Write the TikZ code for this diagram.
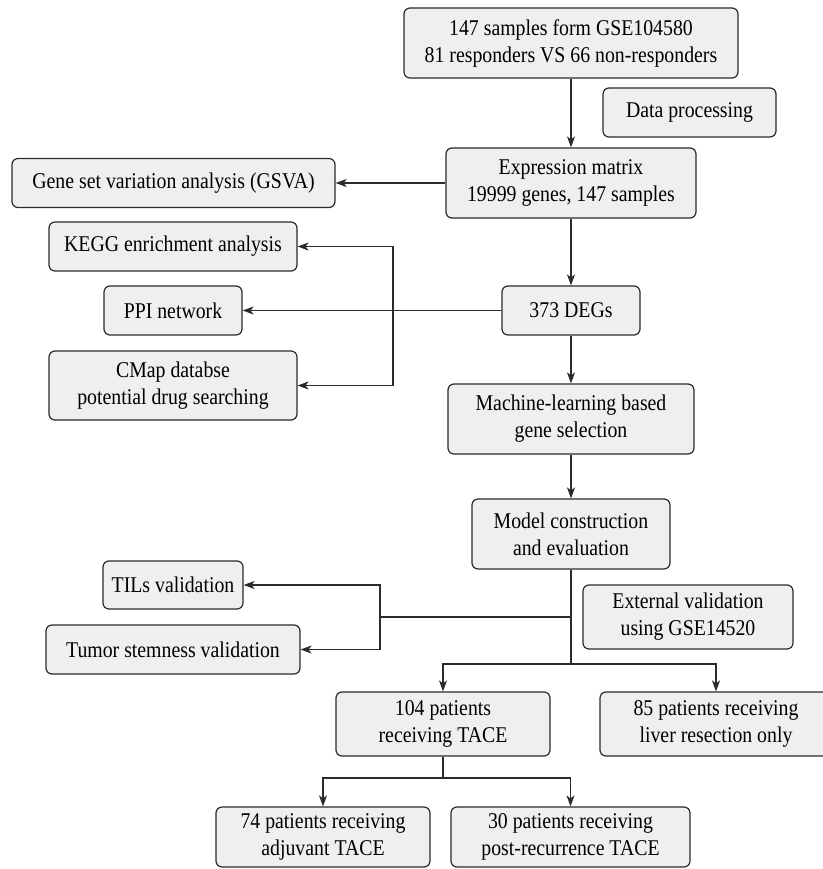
\documentclass[tikz,border=0pt]{standalone}
\usepackage{fontspec}
\setmainfont{Liberation Serif}[FakeStretch=0.88]
\usetikzlibrary{arrows.meta}
\definecolor{boxfill}{HTML}{EFEFEF}
\definecolor{boxline}{HTML}{2B2B2B}
\begin{document}
\begin{tikzpicture}[x=1pt,y=-1pt,
  bx/.style={draw=boxline, fill=boxfill, line width=1.2pt, rounded corners=6pt,
    align=center, inner sep=0pt, font=\fontsize{22.5}{27}\selectfont},
  ar/.style={draw=boxline, line width=1.2pt, -{Stealth[length=11pt,width=8pt,inset=3pt]}},
  ln/.style={draw=boxline, line width=1.2pt}]
\useasboundingbox (0,0) rectangle (822,869);
\fill[white] (0,0) rectangle (822,869);

\node[bx, minimum width=334pt, minimum height=70pt] (top) at (571,43) {147 samples form GSE104580\\81 responders VS 66 non-responders};
\node[bx, minimum width=173pt, minimum height=49pt] (dp) at (689.5,112.5) {Data processing};
\node[bx, minimum width=250pt, minimum height=70pt] (expr) at (571,183) {Expression matrix\\19999 genes, 147 samples};
\node[bx, minimum width=323pt, minimum height=49pt] (gsva) at (173.5,183) {Gene set variation analysis (GSVA)};
\node[bx, minimum width=248pt, minimum height=49pt] (kegg) at (173,246.5) {KEGG enrichment analysis};
\node[bx, minimum width=138pt, minimum height=49pt] (ppi) at (173,310.5) {PPI network};
\node[bx, minimum width=138pt, minimum height=49pt] (degs) at (571,310.5) {373 DEGs};
\node[bx, minimum width=248pt, minimum height=69pt] (cmap) at (173,385.5) {CMap databse\\potential drug searching};
\node[bx, minimum width=246pt, minimum height=70pt] (ml) at (571,419) {Machine-learning based\\gene selection};
\node[bx, minimum width=198pt, minimum height=70pt] (model) at (571,534) {Model construction\\and evaluation};
\node[bx, minimum width=140pt, minimum height=48pt] (tils) at (173,585) {TILs validation};
\node[bx, minimum width=210pt, minimum height=64pt] (ext) at (688,617) {External validation\\using GSE14520};
\node[bx, minimum width=254pt, minimum height=49pt] (tumor) at (173,649.5) {Tumor stemness validation};
\node[bx, minimum width=214pt, minimum height=64pt] (p104) at (443,724) {104 patients\\receiving TACE};
\node[bx, minimum width=232pt, minimum height=64pt] (p85) at (716,724) {85 patients receiving\\liver resection only};
\node[bx, minimum width=214pt, minimum height=60pt] (p74) at (323,837) {74 patients receiving\\adjuvant TACE};
\node[bx, minimum width=239pt, minimum height=60pt] (p30) at (570.5,837) {30 patients receiving\\post-recurrence TACE};

\coordinate (kb) at (393,310.5);
\coordinate (mv) at (571,617);
\coordinate (mh) at (380,617);
\coordinate (ms) at (571,664);
\coordinate (pb) at (443,778);

\draw[ar] (top) -- (expr);
\draw[ar] (expr) -- (gsva);
\draw[ar] (expr) -- (degs);
\draw[ar] (degs) -- (ppi);
\draw[ar] (kb) |- (kegg.east);
\draw[ar] (kb) |- (cmap.east);
\draw[ar] (degs) -- (ml);
\draw[ar] (ml) -- (model);
\draw[ln] (model.south) -- (ms);
\draw[ln] (mv) -- (mh);
\draw[ar] (mh) |- (tils.east);
\draw[ar] (mh) |- (tumor.east);
\draw[ar] (ms) -| (p104.north);
\draw[ar] (ms) -| (p85.north);
\draw[ln] (p104.south) -- (pb);
\draw[ar] (pb) -| (p74.north);
\draw[ar] (pb) -| (p30.north);
\end{tikzpicture}
\end{document}
